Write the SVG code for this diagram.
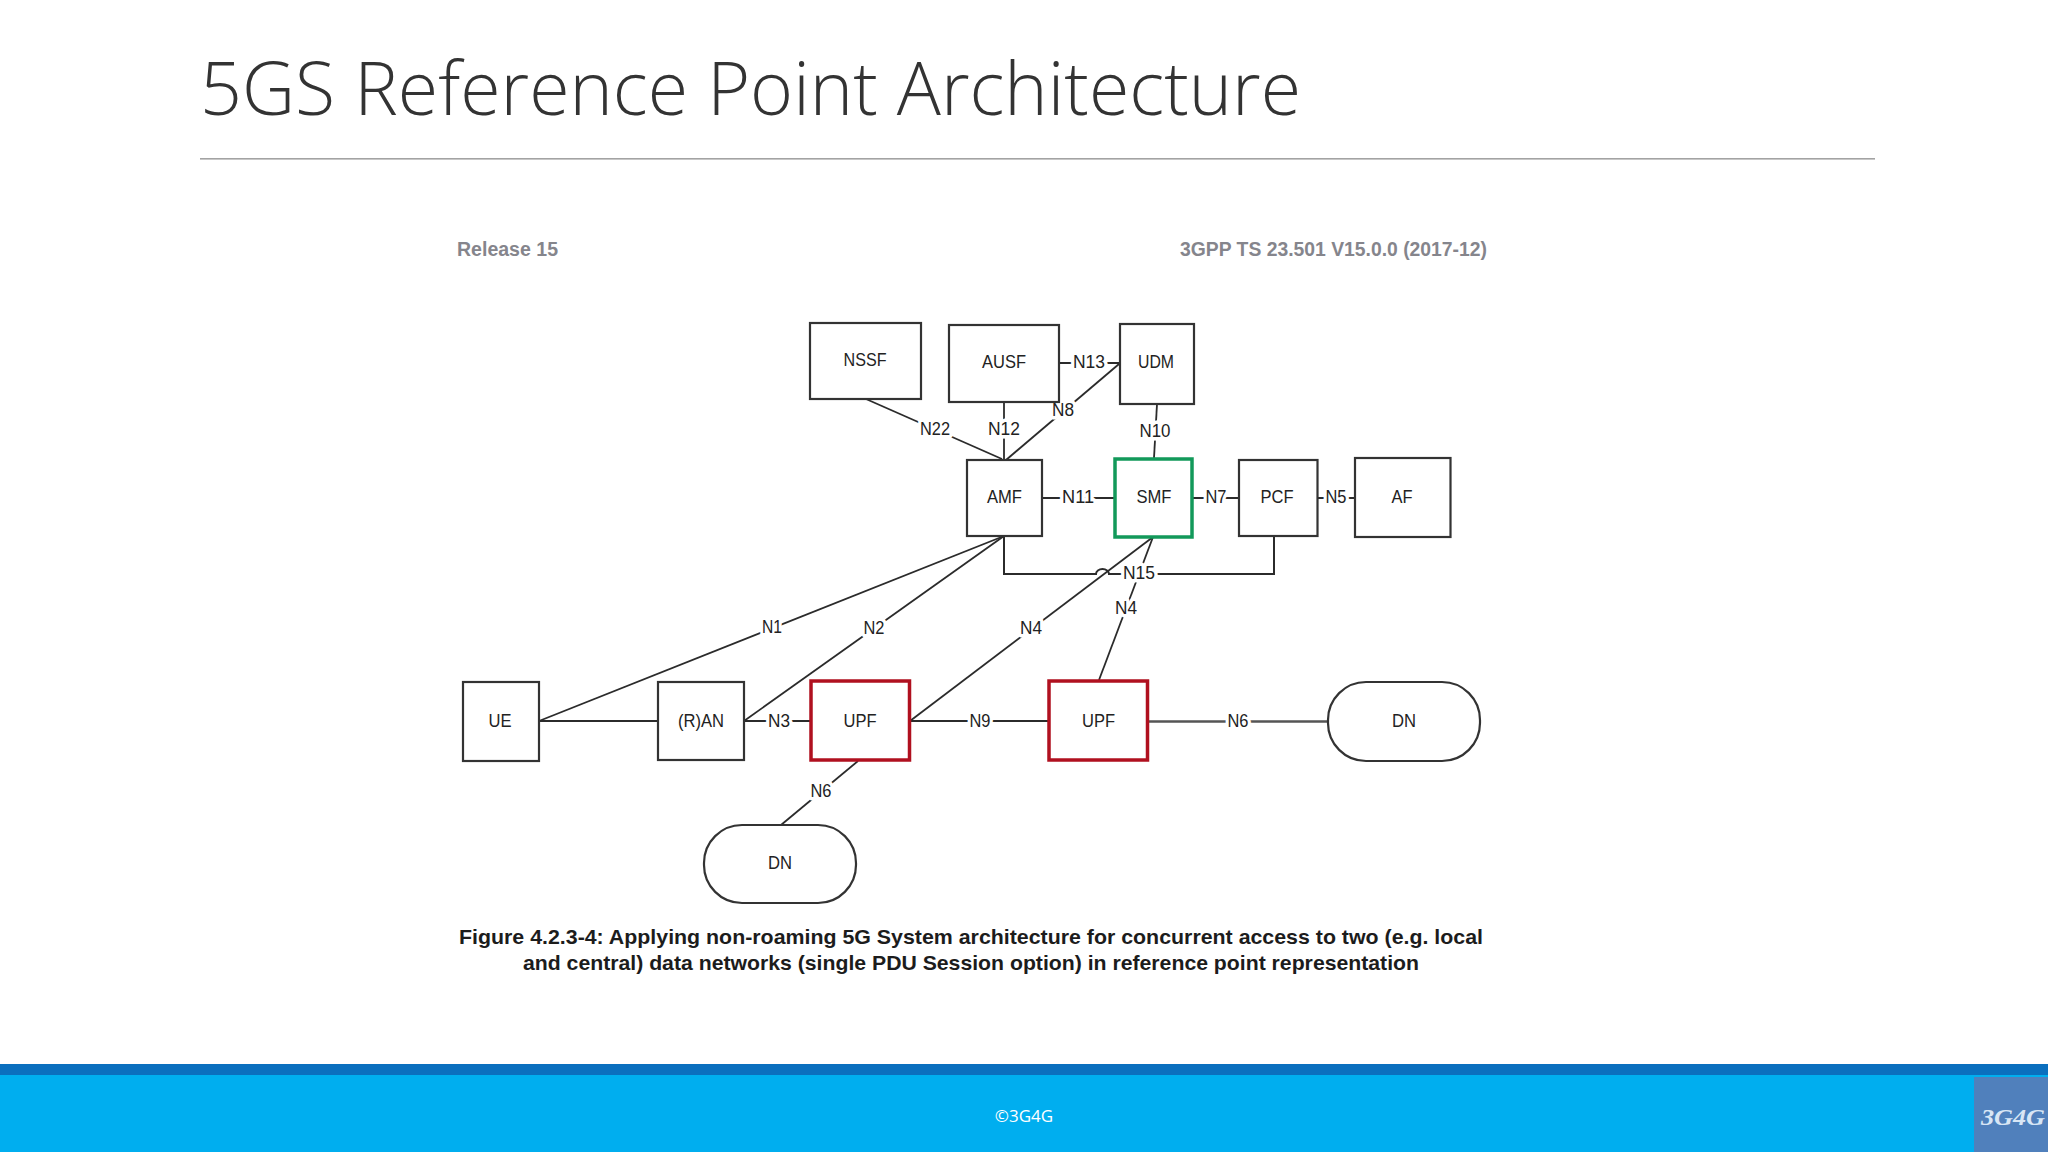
<svg xmlns="http://www.w3.org/2000/svg" width="2048" height="1152" viewBox="0 0 2048 1152">
<style>
.box{fill:#fff;stroke:#333;stroke-width:2.2}
.green{fill:#fff;stroke:#12995a;stroke-width:3.5}
.red{fill:#fff;stroke:#b0101f;stroke-width:3.5}
.nt{font-family:"Liberation Sans",Arial,sans-serif;font-size:18px;fill:#222;text-anchor:middle}
.lb{font-family:"Liberation Sans",Arial,sans-serif;font-size:18px;fill:#222;text-anchor:middle;paint-order:stroke;stroke:#fff;stroke-width:7px;stroke-linejoin:round}
.ln{fill:none;stroke:#2b2b2b;stroke-width:1.8}
.cap{font-family:"Liberation Sans",Arial,sans-serif;font-weight:700;font-size:21px;fill:#1c1c1c}
.hd{font-family:"Liberation Sans",Arial,sans-serif;font-weight:700;font-size:20px;fill:#85858c}
</style>
<rect width="2048" height="1152" fill="#fff"/>
<text x="200" y="115" font-family="'Open Sans',sans-serif" font-weight="300" font-size="74" fill="#333" textLength="1101" lengthAdjust="spacingAndGlyphs">5GS Reference Point Architecture</text>
<rect x="200" y="158" width="1675" height="1.6" fill="#a3a3a3"/>
<text class="hd" x="457" y="256" textLength="101" lengthAdjust="spacingAndGlyphs">Release 15</text>
<text class="hd" x="1180" y="256" textLength="307" lengthAdjust="spacingAndGlyphs">3GPP TS 23.501 V15.0.0 (2017-12)</text>
<g id="connectors">
<path class="ln" d="M866 399L1002 459"/>
<path class="ln" d="M1004 402V460"/>
<path class="ln" d="M1119 364L1006 460"/>
<path class="ln" d="M1060 363H1120"/>
<path class="ln" d="M1157 404L1154 458"/>
<path class="ln" d="M1042 498H1115"/>
<path class="ln" d="M1192 498H1239"/>
<path class="ln" d="M1318 498H1355"/>
<path class="ln" d="M1004 536V574H1096A6.500 5 0 0 1 1109 574H1274V536" style="stroke-width:2"/>
<path class="ln" d="M1004 536L539 721"/>
<path class="ln" d="M1004 536L744 721"/>
<path class="ln" d="M1153 537L910 721"/>
<path class="ln" d="M1153 537L1099 680"/>
<path class="ln" d="M539 721H658"/>
<path class="ln" d="M744 721H811"/>
<path class="ln" d="M910 721H1049"/>
<path class="ln" d="M1148 721.500H1328" style="stroke:#555;stroke-width:2.400"/>
<path class="ln" d="M858 761L781 825"/>
<text class="lb" x="935" y="435" textLength="30" lengthAdjust="spacingAndGlyphs">N22</text>
<text class="lb" x="1004" y="435" textLength="32" lengthAdjust="spacingAndGlyphs">N12</text>
<text class="lb" x="1063" y="416" textLength="22" lengthAdjust="spacingAndGlyphs">N8</text>
<text class="lb" x="1089" y="368" textLength="32" lengthAdjust="spacingAndGlyphs">N13</text>
<text class="lb" x="1155" y="437" textLength="31" lengthAdjust="spacingAndGlyphs">N10</text>
<text class="lb" x="1078" y="503" textLength="32" lengthAdjust="spacingAndGlyphs">N11</text>
<text class="lb" x="1216" y="503" textLength="21" lengthAdjust="spacingAndGlyphs">N7</text>
<text class="lb" x="1336" y="503" textLength="21" lengthAdjust="spacingAndGlyphs">N5</text>
<text class="lb" x="1139" y="579" textLength="32" lengthAdjust="spacingAndGlyphs">N15</text>
<text class="lb" x="1126" y="614" textLength="22" lengthAdjust="spacingAndGlyphs">N4</text>
<text class="lb" x="1031" y="634" textLength="22" lengthAdjust="spacingAndGlyphs">N4</text>
<text class="lb" x="874" y="634" textLength="21" lengthAdjust="spacingAndGlyphs">N2</text>
<text class="lb" x="772" y="633" textLength="20" lengthAdjust="spacingAndGlyphs">N1</text>
<text class="lb" x="779" y="727" textLength="22" lengthAdjust="spacingAndGlyphs">N3</text>
<text class="lb" x="980" y="727" textLength="21" lengthAdjust="spacingAndGlyphs">N9</text>
<text class="lb" x="1238" y="727" textLength="21" lengthAdjust="spacingAndGlyphs">N6</text>
<text class="lb" x="821" y="797" textLength="21" lengthAdjust="spacingAndGlyphs">N6</text>
</g>
<g id="nssf"><rect class="box" x="810" y="323" width="111" height="76"/><text class="nt" x="865" y="366" textLength="43" lengthAdjust="spacingAndGlyphs">NSSF</text></g>
<g id="ausf"><rect class="box" x="949" y="325" width="110" height="77"/><text class="nt" x="1004" y="368" textLength="44" lengthAdjust="spacingAndGlyphs">AUSF</text></g>
<g id="udm"><rect class="box" x="1120" y="324" width="74" height="80"/><text class="nt" x="1156" y="368" textLength="36" lengthAdjust="spacingAndGlyphs">UDM</text></g>
<g id="amf"><rect class="box" x="967" y="460" width="75" height="76"/><text class="nt" x="1004.500" y="503" textLength="35" lengthAdjust="spacingAndGlyphs">AMF</text></g>
<g id="smf"><rect class="green" x="1115" y="459" width="77" height="78"/><text class="nt" x="1154" y="503" textLength="35" lengthAdjust="spacingAndGlyphs">SMF</text></g>
<g id="pcf"><rect class="box" x="1239" y="460" width="78.500" height="76"/><text class="nt" x="1277" y="503" textLength="33" lengthAdjust="spacingAndGlyphs">PCF</text></g>
<g id="af"><rect class="box" x="1355" y="458" width="95.500" height="79"/><text class="nt" x="1402" y="503" textLength="21" lengthAdjust="spacingAndGlyphs">AF</text></g>
<g id="ue"><rect class="box" x="463" y="682" width="76" height="79"/><text class="nt" x="500" y="727" textLength="23" lengthAdjust="spacingAndGlyphs">UE</text></g>
<g id="ran"><rect class="box" x="658" y="682" width="86" height="78"/><text class="nt" x="701" y="727" textLength="46" lengthAdjust="spacingAndGlyphs">(R)AN</text></g>
<g id="upf1"><rect class="red" x="811" y="681" width="98.500" height="79"/><text class="nt" x="860" y="727" textLength="33" lengthAdjust="spacingAndGlyphs">UPF</text></g>
<g id="upf2"><rect class="red" x="1049" y="681" width="98.500" height="79"/><text class="nt" x="1098.500" y="727" textLength="33" lengthAdjust="spacingAndGlyphs">UPF</text></g>
<g id="dn1"><rect class="box" x="1328" y="682" width="152" height="79" rx="38" ry="38"/><text class="nt" x="1404" y="727" textLength="24" lengthAdjust="spacingAndGlyphs">DN</text></g>
<g id="dn2"><rect class="box" x="704" y="825" width="152" height="78" rx="38" ry="38"/><text class="nt" x="780" y="869" textLength="24" lengthAdjust="spacingAndGlyphs">DN</text></g>
<text class="cap" x="459" y="944" textLength="1024" lengthAdjust="spacingAndGlyphs">Figure 4.2.3-4: Applying non-roaming 5G System architecture for concurrent access to two (e.g. local</text>
<text class="cap" x="523" y="970" textLength="896" lengthAdjust="spacingAndGlyphs">and central) data networks (single PDU Session option) in reference point representation</text>
<rect y="1064" width="2048" height="11" fill="#0b6fbe"/>
<rect y="1075" width="2048" height="77" fill="#00aeef"/>
<text x="1024" y="1122" font-family="'Open Sans',sans-serif" font-size="17" fill="#fff" text-anchor="middle">©3G4G</text>
<rect x="1974" y="1077" width="74" height="75" fill="#5080bc"/>
<text x="1981" y="1125" font-family="'Liberation Serif',serif" font-style="italic" font-weight="700" font-size="24" fill="#d8e6f5" textLength="64" lengthAdjust="spacingAndGlyphs">3G4G</text>
</svg>
